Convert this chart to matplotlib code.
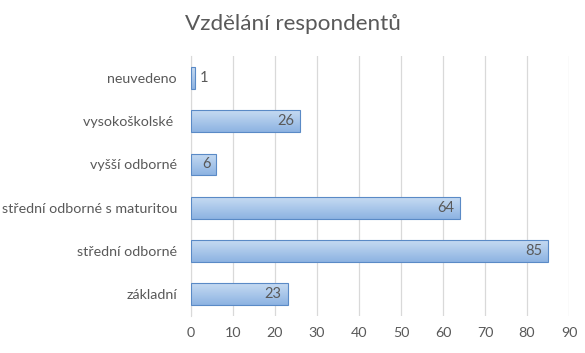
import numpy as np
import matplotlib.pyplot as plt
from matplotlib.colors import LinearSegmentedColormap

# --- data ---
categories = ["základní", "střední odborné", "střední odborné s maturitou",
              "vyšší odborné", "vysokoškolské ", "neuvedeno"]
counts = [23, 85, 64, 6, 26, 1]
x_ticks = list(range(0, 100, 10))

plt.rcParams['font.family'] = ['Lato', 'DejaVu Sans']
grey = '#595959'

fig = plt.figure(figsize=(5.85, 3.53), dpi=100)
ax = fig.add_axes([0.3265, 0.105, 0.6461, 0.736])

bar_h = 0.5
# gradient fill, light on top, darker at the bottom
grad = LinearSegmentedColormap.from_list('g', ['#8db3e2', '#c6dbf2'])
gimg = np.linspace(0, 1, 64).reshape(-1, 1)

bars = ax.barh(range(len(categories)), counts, height=bar_h,
               color='none', edgecolor='#5a8ac6', linewidth=0.8, zorder=3)
for i, (b, v) in enumerate(zip(bars, counts)):
    im = ax.imshow(gimg, cmap=grad, aspect='auto', origin='lower',
                   extent=[0, v, i - bar_h / 2, i + bar_h / 2], zorder=2)
    im.set_clip_path(b)
    if v < 3:
        ax.text(v + 1.2, i, str(v), va='center', ha='left',
                color=grey, fontsize=10.5)
    else:
        ax.text(v - 1.4, i, str(v), va='center', ha='right',
                color=grey, fontsize=10.5)

ax.set_xlim(0, 90)
ax.set_ylim(-0.5, len(categories) - 0.5)
ax.set_xticks(x_ticks)
ax.set_yticks(range(len(categories)))
ax.set_yticklabels(categories)
ax.tick_params(axis='both', length=0, colors=grey, labelsize=10.3)
ax.tick_params(axis='x', pad=8)
ax.tick_params(axis='y', pad=10)
ax.grid(axis='x', color='#d9d9d9', linewidth=0.9, zorder=0)
ax.set_axisbelow(True)
for s in ['top', 'right', 'bottom']:
    ax.spines[s].set_visible(False)
ax.spines['left'].set_color('#d9d9d9')

fig.suptitle("Vzdělání respondentů", x=0.5, y=0.96, fontsize=16.2, color=grey)

fig.savefig('out.png', dpi=100)
